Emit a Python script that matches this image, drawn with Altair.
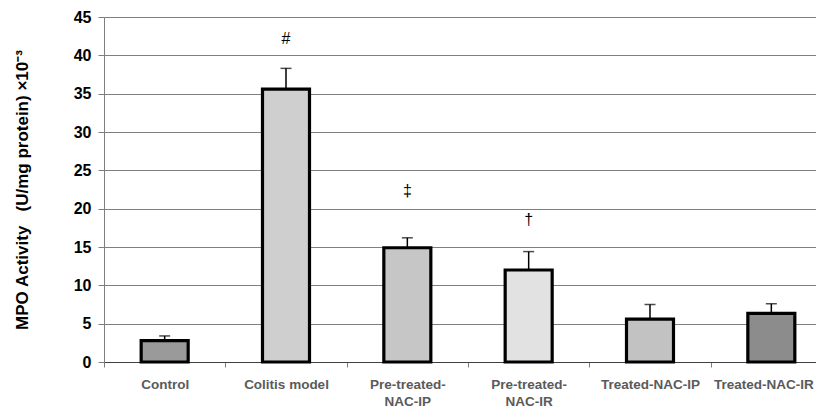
import altair as alt
import pandas as pd

categories = ["Control", "Colitis model", "Pre-treated-NAC-IP", "Pre-treated-NAC-IR",
              "Treated-NAC-IP", "Treated-NAC-IR"]
means = [2.8, 35.6, 14.9, 12.0, 5.6, 6.35]
err_tops = [3.4, 38.3, 16.2, 14.4, 7.5, 7.6]
marks = ["", "#", "\u2021", "\u2020", "", ""]
mark_y = [None, 42.1, 22.3, 18.5, None, None]
fills = ["#9a9a9a", "#cfcfcf", "#c6c6c6", "#e2e2e2", "#c2c2c2", "#8c8c8c"]
y_ticks = [0, 5, 10, 15, 20, 25, 30, 35, 40, 45]

df = pd.DataFrame({"cat": categories, "mean": means, "top": err_tops, "fill": fills})
ann = pd.DataFrame({"cat": categories, "sym": marks, "y": mark_y}).dropna()

FONT = "Liberation Sans"

xscale = alt.Scale(domain=categories, range=[0, 728], paddingInner=0, paddingOuter=0)
yscale = alt.Scale(domain=[0, 45])

x_axis = alt.Axis(
    title=None, labelAngle=0, labelFont=FONT, labelFontSize=13.5, labelFontWeight="bold",
    labelColor="#5a5a5a", tickBand="extent", tickSize=5, tickColor="#7f7f7f",
    domainColor="#404040", labelPadding=10, labelLineHeight=17.5, labelBaseline="top",
    labelOffset={"condition": {"test": "datum.value == 'Treated-NAC-IR'", "value": -8},
                 "value": 0},
    labelExpr="split(replace(datum.label, 'Pre-treated-', 'Pre-treated-\\n'), '\\n')",
    grid=False)

y_axis = alt.Axis(
    title="MPO Activity\u00a0\u00a0\u00a0(U/mg protein) \u00d710\u207b\u00b3", titleFont=FONT,
    titleFontSize=17, titleFontWeight="bold", titleColor="#000", titleAngle=270,
    titleX=-82, titleY=172.5, titleAlign="center", titleBaseline="middle",
    values=y_ticks, labelOverlap=False, labelFont=FONT, labelFontSize=16,
    labelFontWeight="bold", labelColor="#000", labelPadding=7, tickSize=6,
    tickColor="#7f7f7f", domainColor="#7f7f7f", gridColor="#7f7f7f", gridWidth=1,
    gridOpacity=1)

x_enc = alt.X("cat:N", scale=xscale, sort=categories, axis=x_axis)

bars = alt.Chart(df).mark_bar(size=47, stroke="black", strokeWidth=3.2).encode(
    x=x_enc,
    y=alt.Y("mean:Q", scale=yscale, axis=y_axis),
    fill=alt.Fill("fill:N", scale=None),
)

err = alt.Chart(df).mark_rule(color="black", strokeWidth=1.5).encode(
    x=x_enc,
    y=alt.Y("mean:Q", scale=yscale, axis=y_axis),
    y2="top:Q",
)

caps = alt.Chart(df).mark_tick(color="black", thickness=1.5, size=11, orient="horizontal").encode(
    x=x_enc,
    y=alt.Y("top:Q", scale=yscale, axis=y_axis),
)

text = alt.Chart(ann).mark_text(font=FONT, fontSize=16, color="black",
                                baseline="middle").encode(
    x=x_enc,
    y=alt.Y("y:Q", scale=yscale, axis=y_axis),
    text="sym:N",
)

chart = alt.layer(bars, err, caps, text).properties(
    width=712, height=345,
    padding={"left": 96, "top": 9, "right": 0, "bottom": 48},
    autosize=alt.AutoSizeParams(type="none"),
).configure_view(stroke=None).configure(background="white")

chart.save("out.html", embed_options={"renderer": "svg", "actions": False})
